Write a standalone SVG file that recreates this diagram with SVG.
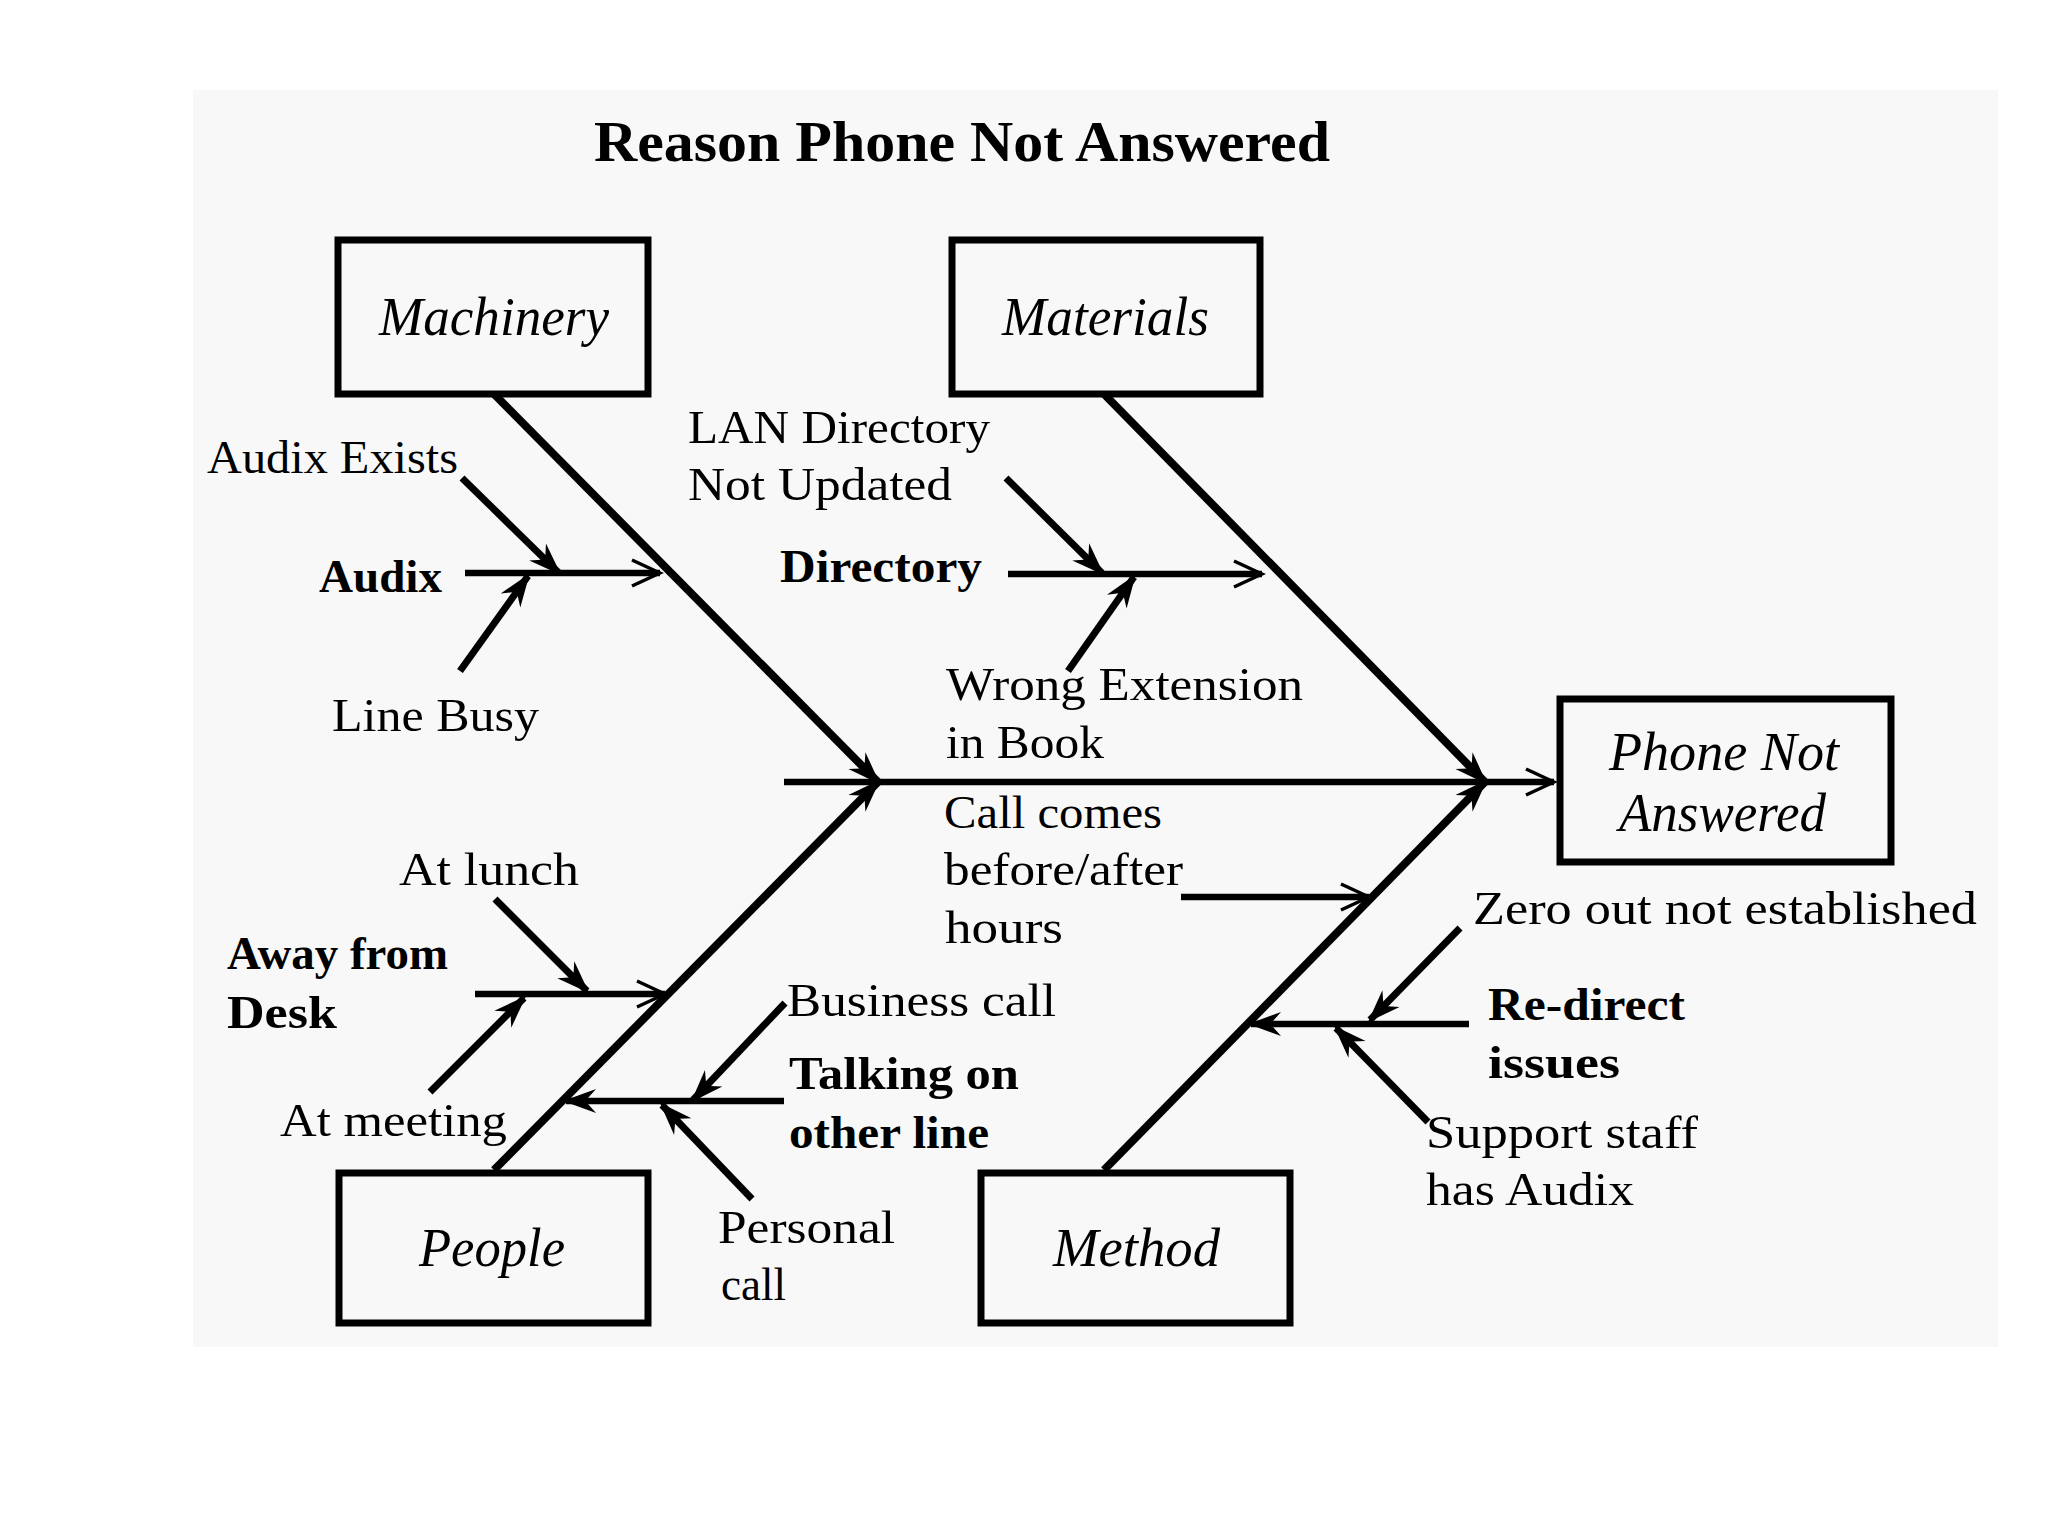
<svg xmlns="http://www.w3.org/2000/svg" width="2048" height="1536" viewBox="0 0 2048 1536">
<style>
.box{fill:none;stroke:#000;stroke-width:7}
.t{font-family:"Liberation Serif","Times New Roman",serif;fill:#000}
.r{font-size:47px}
.b{font-size:46px;font-weight:bold}
.i{font-size:54px;font-style:italic}
.title{font-size:56px;font-weight:bold}
.bone{stroke:#000;stroke-width:8;fill:none;marker-end:url(#thick)}
.sub{stroke:#000;stroke-width:7;fill:none;marker-end:url(#thick)}
.hl{stroke:#000;stroke-width:6.5;fill:none;marker-end:url(#thin)}
.hl2{stroke:#000;stroke-width:6.5;fill:none;marker-end:url(#thick)}
.spine{stroke:#000;stroke-width:6.5;fill:none;marker-end:url(#thin)}
</style>
<defs>
<marker id="thick" markerUnits="userSpaceOnUse" viewBox="-36 -18 40 36" refX="0" refY="0" markerWidth="40" markerHeight="36" orient="auto">
<path d="M3,0 L-30,-12 L-22,-3 L-22,3 L-30,12 Z" fill="#000"/>
</marker>
<marker id="thin" markerUnits="userSpaceOnUse" viewBox="-36 -18 40 36" refX="0" refY="0" markerWidth="40" markerHeight="36" orient="auto">
<path d="M-28,-13 L0,0 L-28,13" fill="none" stroke="#000" stroke-width="3.5"/>
</marker>
</defs>
<rect x="0" y="0" width="2048" height="1536" fill="#fff"/>
<rect x="193" y="90" width="1805" height="1257" fill="#f8f8f8"/>
<g id="title"><text class="t title" x="594" y="161" textLength="736" lengthAdjust="spacingAndGlyphs">Reason Phone Not Answered</text></g>
<g id="connectors">
<path class="spine" d="M784,782 L1554,782"/>
<path class="bone" d="M494,394 L878,782"/>
<path class="bone" d="M1104,394 L1485,782"/>
<path class="bone" d="M494,1170 L878,782"/>
<path class="bone" d="M1104,1170 L1485,782"/>
<path class="hl" d="M465,573 L660,573"/>
<path class="sub" d="M462,478 L559,573"/>
<path class="sub" d="M460,671 L528,576"/>
<path class="hl" d="M1008,574 L1262,574"/>
<path class="sub" d="M1006,478 L1102,573"/>
<path class="sub" d="M1068,671 L1134,577"/>
<path class="hl" d="M1181,897 L1369,897"/>
<path class="hl2" d="M1469,1024 L1251,1024"/>
<path class="sub" d="M1460,928 L1370,1020"/>
<path class="sub" d="M1428,1122 L1336,1028"/>
<path class="hl" d="M475,994 L665,994"/>
<path class="sub" d="M495,899 L587,991"/>
<path class="sub" d="M430,1092 L524,998"/>
<path class="hl2" d="M784,1101 L566,1101"/>
<path class="sub" d="M785,1003 L693,1100"/>
<path class="sub" d="M752,1199 L662,1105"/>
</g>
<g id="machinery"><rect class="box" x="338" y="240" width="310" height="154"/><text class="t i" x="379" y="335" textLength="230" lengthAdjust="spacingAndGlyphs">Machinery</text></g>
<g id="materials"><rect class="box" x="952" y="240" width="308" height="154"/><text class="t i" x="1002" y="335" textLength="207" lengthAdjust="spacingAndGlyphs">Materials</text></g>
<g id="effect"><rect class="box" x="1560" y="699" width="331" height="163"/><text class="t i" x="1609" y="770" textLength="230" lengthAdjust="spacingAndGlyphs">Phone Not</text><text class="t i" x="1619" y="831" textLength="207" lengthAdjust="spacingAndGlyphs">Answered</text></g>
<g id="people"><rect class="box" x="339" y="1173" width="309" height="150"/><text class="t i" x="419" y="1266" textLength="146" lengthAdjust="spacingAndGlyphs">People</text></g>
<g id="method"><rect class="box" x="981" y="1173" width="309" height="150"/><text class="t i" x="1053" y="1266" textLength="167" lengthAdjust="spacingAndGlyphs">Method</text></g>
<g id="audix"><text class="t b" x="319" y="592" textLength="123" lengthAdjust="spacingAndGlyphs">Audix</text></g>
<g id="audix-exists"><text class="t r" x="207" y="473" textLength="251" lengthAdjust="spacingAndGlyphs">Audix Exists</text></g>
<g id="line-busy"><text class="t r" x="332" y="731" textLength="207" lengthAdjust="spacingAndGlyphs">Line Busy</text></g>
<g id="directory"><text class="t b" x="780" y="582" textLength="202" lengthAdjust="spacingAndGlyphs">Directory</text></g>
<g id="lan"><text class="t r" x="688" y="443" textLength="302" lengthAdjust="spacingAndGlyphs">LAN Directory</text><text class="t r" x="688" y="500" textLength="264" lengthAdjust="spacingAndGlyphs">Not Updated</text></g>
<g id="wrong-ext"><text class="t r" x="946" y="700" textLength="357" lengthAdjust="spacingAndGlyphs">Wrong Extension</text><text class="t r" x="946" y="758" textLength="158" lengthAdjust="spacingAndGlyphs">in Book</text></g>
<g id="call-hours"><text class="t r" x="944" y="828" textLength="218" lengthAdjust="spacingAndGlyphs">Call comes</text><text class="t r" x="944" y="885" textLength="239" lengthAdjust="spacingAndGlyphs">before/after</text><text class="t r" x="945" y="943" textLength="118" lengthAdjust="spacingAndGlyphs">hours</text></g>
<g id="redirect"><text class="t b" x="1488" y="1020" textLength="197" lengthAdjust="spacingAndGlyphs">Re-direct</text><text class="t b" x="1488" y="1078" textLength="132" lengthAdjust="spacingAndGlyphs">issues</text></g>
<g id="zero-out"><text class="t r" x="1473" y="924" textLength="504" lengthAdjust="spacingAndGlyphs">Zero out not established</text></g>
<g id="support"><text class="t r" x="1426" y="1148" textLength="272" lengthAdjust="spacingAndGlyphs">Support staff</text><text class="t r" x="1426" y="1205" textLength="208" lengthAdjust="spacingAndGlyphs">has Audix</text></g>
<g id="away"><text class="t b" x="227" y="969" textLength="221" lengthAdjust="spacingAndGlyphs">Away from</text><text class="t b" x="227" y="1028" textLength="110" lengthAdjust="spacingAndGlyphs">Desk</text></g>
<g id="at-lunch"><text class="t r" x="399" y="885" textLength="180" lengthAdjust="spacingAndGlyphs">At lunch</text></g>
<g id="at-meeting"><text class="t r" x="280" y="1136" textLength="227" lengthAdjust="spacingAndGlyphs">At meeting</text></g>
<g id="talking"><text class="t b" x="789" y="1089" textLength="230" lengthAdjust="spacingAndGlyphs">Talking on</text><text class="t b" x="789" y="1148" textLength="200" lengthAdjust="spacingAndGlyphs">other line</text></g>
<g id="business"><text class="t r" x="787" y="1016" textLength="269" lengthAdjust="spacingAndGlyphs">Business call</text></g>
<g id="personal"><text class="t r" x="718" y="1243" textLength="177" lengthAdjust="spacingAndGlyphs">Personal</text><text class="t r" x="721" y="1300" textLength="65" lengthAdjust="spacingAndGlyphs">call</text></g>
</svg>
